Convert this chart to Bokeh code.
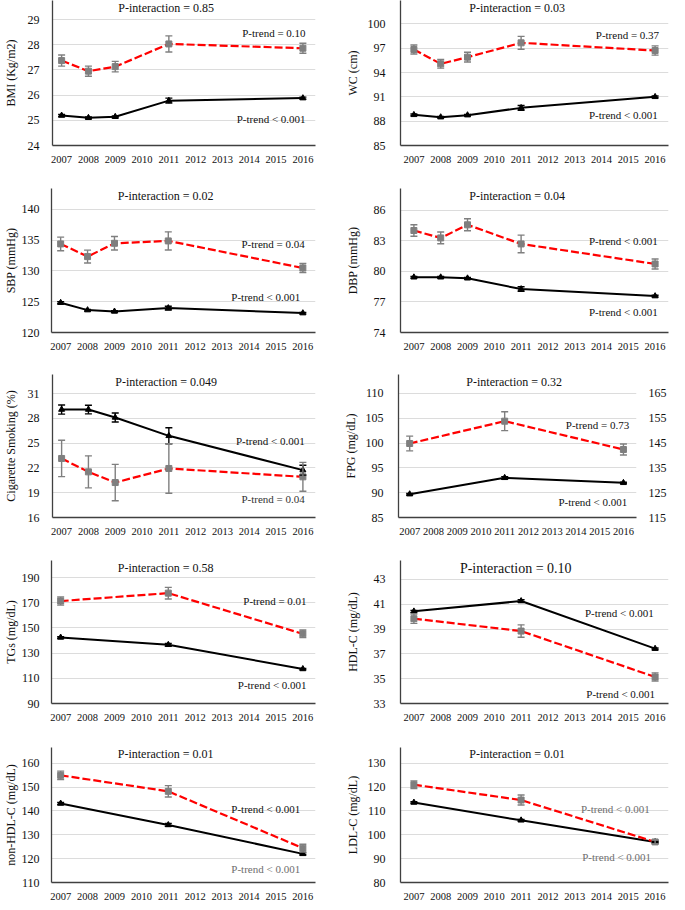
from bokeh.plotting import figure
from bokeh.layouts import column, row
from bokeh.models import Range1d, FixedTicker, LinearAxis, Label, Whisker, TeeHead, ColumnDataSource
from bokeh.embed import file_html
from bokeh.resources import INLINE

FONT = "Liberation Serif"

# ---------------- data ----------------
years_axis = list(range(2007, 2017))
years5 = [2007, 2008, 2009, 2011, 2016]
years3 = [2007, 2011, 2016]

bmi_hi = [27.37, 26.95, 27.13, 28.03, 27.86]
bmi_hi_err = [0.22, 0.20, 0.21, 0.32, 0.20]
bmi_lo = [25.19, 25.10, 25.14, 25.78, 25.88]
bmi_lo_err = [0.04, 0.03, 0.03, 0.10, 0.04]

wc_hi = [96.84, 95.07, 95.89, 97.66, 96.71]
wc_hi_err = [0.55, 0.53, 0.60, 0.80, 0.57]
wc_lo = [88.78, 88.49, 88.74, 89.64, 91.00]
wc_lo_err = [0.10, 0.08, 0.08, 0.30, 0.10]

sbp_hi = [134.40, 132.34, 134.50, 134.89, 130.49]
sbp_hi_err = [1.10, 1.05, 1.10, 1.47, 0.73]
sbp_lo = [124.84, 123.64, 123.42, 123.97, 123.15]
sbp_lo_err = [0.15, 0.12, 0.12, 0.30, 0.12]

dbp_hi = [84.03, 83.30, 84.59, 82.71, 80.74]
dbp_hi_err = [0.56, 0.58, 0.59, 0.87, 0.49]
dbp_lo = [79.43, 79.43, 79.33, 78.27, 77.58]
dbp_lo_err = [0.08, 0.08, 0.08, 0.23, 0.08]

smk_hi = [23.14, 21.52, 20.23, 21.93, 20.92]
smk_hi_err = [2.20, 1.94, 2.20, 3.00, 1.75]
smk_lo = [29.06, 29.06, 28.10, 25.88, 21.73]
smk_lo_err = [0.55, 0.52, 0.55, 0.97, 0.60]

fpg_hi = [99.92, 104.42, 98.71]
fpg_hi_err = [1.48, 1.90, 1.10]
fpg_lo = [89.70, 93.00, 91.99]
fpg_lo_err = [0.15, 0.25, 0.12]

tg_hi = [171.3, 177.6, 145.3]
tg_hi_err = [3.2, 4.6, 3.0]
tg_lo = [142.4, 136.6, 117.4]
tg_lo_err = [0.6, 1.0, 0.5]

hdl_hi = [39.84, 38.84, 35.14]
hdl_hi_err = [0.38, 0.50, 0.33]
hdl_lo = [40.43, 41.26, 37.42]
hdl_lo_err = [0.08, 0.10, 0.06]

nhdl_hi = [154.9, 148.2, 124.4]
nhdl_hi_err = [1.77, 2.40, 1.60]
nhdl_lo = [143.1, 134.1, 122.0]
nhdl_lo_err = [0.4, 0.6, 0.4]

ldl_hi = [120.97, 114.55, 97.0]
ldl_hi_err = [1.6, 2.1, 0.8]
ldl_lo = [113.5, 106.05, 97.0]
ldl_lo_err = [0.3, 0.4, 0.3]

RED = "#ff0000"
GRAY = "#7f7f7f"
BLACK = "#000000"
TXT = "#111111"
GTXT = "#6e6e6e"


def panel(width, height, L, R, T, B, xr, yr, yticks, ylabel, lab_standoff, tick_standoff,
          xs, hi, hi_err, lo, lo_err, title, title_x, trends, title_size="12px", title_off=7,
          right=None):
    p = figure(width=width, height=height, output_backend="svg", toolbar_location=None,
               x_range=Range1d(*xr), y_range=Range1d(*yr),
               min_border_left=L, min_border_right=R, min_border_top=T, min_border_bottom=B)
    p.outline_line_color = None
    p.background_fill_color = "white"
    p.border_fill_color = "white"

    p.xaxis.ticker = FixedTicker(ticks=years_axis)
    p.yaxis.ticker = FixedTicker(ticks=yticks)
    for ax in (p.xaxis[0], p.yaxis[0]):
        ax.axis_line_color = "#404040"
        ax.axis_line_width = 1.3
        ax.major_tick_line_color = None
        ax.minor_tick_line_color = None
        ax.major_label_text_font = FONT
        ax.major_label_text_color = TXT
    p.xaxis.major_label_text_font_size = "10.5px"
    p.xaxis.major_label_standoff = 4
    p.yaxis.major_label_text_font_size = "12px"
    p.yaxis.major_label_standoff = tick_standoff
    p.yaxis.axis_label = ylabel
    p.yaxis.axis_label_text_font = FONT
    p.yaxis.axis_label_text_font_size = "12px"
    p.yaxis.axis_label_text_font_style = "normal"
    p.yaxis.axis_label_text_color = TXT
    p.yaxis.axis_label_standoff = lab_standoff

    p.xgrid.visible = False
    p.ygrid.ticker = FixedTicker(ticks=yticks)
    p.ygrid.grid_line_color = "#dcdcdc"
    p.ygrid.grid_line_width = 1

    if right is not None:
        rr, rticks = right
        p.extra_y_ranges = {"r": Range1d(*rr)}
        rax = LinearAxis(y_range_name="r", ticker=FixedTicker(ticks=rticks))
        rax.axis_line_color = None
        rax.major_tick_line_color = None
        rax.minor_tick_line_color = None
        rax.major_label_text_font = FONT
        rax.major_label_text_font_size = "12px"
        rax.major_label_text_color = TXT
        rax.major_label_standoff = 6
        p.add_layout(rax, "right")

    p.line(xs, lo, line_color=BLACK, line_width=2)
    p.line(xs, hi, line_color=RED, line_width=2.2, line_dash="8 3")

    src_hi = ColumnDataSource(dict(x=xs, up=[v + e for v, e in zip(hi, hi_err)],
                                   dn=[v - e for v, e in zip(hi, hi_err)]))
    src_lo = ColumnDataSource(dict(x=xs, up=[v + e for v, e in zip(lo, lo_err)],
                                   dn=[v - e for v, e in zip(lo, lo_err)]))
    for src, col in ((src_lo, BLACK), (src_hi, GRAY)):
        w = Whisker(base="x", upper="up", lower="dn", source=src, level="glyph",
                    line_color=col, line_width=1.4,
                    upper_head=TeeHead(size=7, line_color=col, line_width=1.4),
                    lower_head=TeeHead(size=7, line_color=col, line_width=1.4))
        p.add_layout(w)

    p.scatter(xs, lo, marker="triangle", size=6, fill_color=BLACK, line_color=BLACK)
    p.scatter(xs, hi, marker="square", size=6, fill_color=GRAY, line_color=GRAY)

    frame_h = height - T - B
    ty = yr[1] - title_off * (yr[1] - yr[0]) / frame_h
    p.add_layout(Label(x=title_x, y=ty, text=title, text_align="center", text_baseline="middle",
                       text_font=FONT, text_font_size=title_size, text_color=TXT))
    for (tx, tyy, txt, col) in trends:
        p.add_layout(Label(x=tx, y=tyy, text=txt, text_align="right", text_baseline="middle",
                           text_font=FONT, text_font_size="11px", text_color=col))
    return p


LW, RW = 334, 335
LXR = (2006.66, 2016.47)
RXR = (2006.5, 2016.5)

# row 1: height 178
H, T, B = 178, 0, 33
p1 = panel(LW, H, 42, 19, T, B, LXR, (24, 29.754), [24, 25, 26, 27, 28, 29], "BMI (Kg/m2)", 7, 7,
           years5, bmi_hi, bmi_hi_err, bmi_lo, bmi_lo_err, "P-interaction = 0.85", 2010.9,
           [(2016.1, 28.48, "P-trend = 0.10", TXT), (2016.1, 25.07, "P-trend < 0.001", TXT)])
p2 = panel(RW, H, 66, 1, T, B, RXR, (85, 102.88), [85, 88, 91, 94, 97, 100], "WC (cm)", 5, 9,
           years5, wc_hi, wc_hi_err, wc_lo, wc_lo_err, "P-interaction = 0.03", 2010.85,
           [(2016.15, 98.64, "P-trend = 0.37", TXT), (2016.1, 88.78, "P-trend < 0.001", TXT)])

# row 2: height 184
H, T, B = 184, 10, 30
p3 = panel(LW, H, 42, 19, T, B, LXR, (120, 143.41), [120, 125, 130, 135, 140], "SBP (mmHg)", 1, 6,
           years5, sbp_hi, sbp_hi_err, sbp_lo, sbp_lo_err, "P-interaction = 0.02", 2010.9,
           [(2016.07, 134.4, "P-trend = 0.04", TXT), (2015.9, 125.7, "P-trend < 0.001", TXT)])
p4 = panel(RW, H, 66, 1, T, B, RXR, (74, 88.16), [74, 77, 80, 83, 86], "DBP (mmHg)", 11, 9,
           years5, dbp_hi, dbp_hi_err, dbp_lo, dbp_lo_err, "P-interaction = 0.04", 2010.85,
           [(2016.1, 82.97, "P-trend < 0.001", TXT), (2016.1, 75.97, "P-trend < 0.001", TXT)])

# row 3: height 186
H, T, B = 186, 12, 31
p5 = panel(LW, H, 42, 19, T, B, LXR, (16, 33.30), [16, 19, 22, 25, 28, 31], "Cigarette Smoking (%)", 7, 7,
           years5, smk_hi, smk_hi_err, smk_lo, smk_lo_err, "P-interaction = 0.049", 2010.9,
           [(2016.07, 25.23, "P-trend < 0.001", TXT), (2016.07, 18.18, "P-trend = 0.04", "#333333")])
p6 = panel(RW, H, 64, 22, T, B, (2006.53, 2016.55), (85, 113.83), [85, 90, 95, 100, 105, 110], "FPG (mg/dL)", 5, 9,
           years3, fpg_hi, fpg_hi_err, fpg_lo, fpg_lo_err, "P-interaction = 0.32", 2011.4,
           [(2016.24, 103.69, "P-trend = 0.73", TXT), (2016.16, 88.2, "P-trend < 0.001", TXT)],
           right=((115, 172.66), [115, 125, 135, 145, 155, 165]))

# row 4: height 185
H, T, B = 185, 12, 30
p7 = panel(LW, H, 42, 19, T, B, LXR, (90, 203.5), [90, 110, 130, 150, 170, 190], "TGs (mg/dL)", 1, 6,
           years3, tg_hi, tg_hi_err, tg_lo, tg_lo_err, "P-interaction = 0.58", 2010.9,
           [(2016.14, 171.7, "P-trend = 0.01", TXT), (2016.14, 104.3, "P-trend < 0.001", TXT)])
p8 = panel(RW, H, 66, 1, T, B, RXR, (33, 44.53), [33, 35, 37, 39, 41, 43], "HDL-C (mg/dL)", 11, 9,
           years3, hdl_hi, hdl_hi_err, hdl_lo, hdl_lo_err, "P-interaction = 0.10", 2010.8,
           [(2015.95, 40.31, "P-trend < 0.001", TXT), (2016.0, 33.78, "P-trend < 0.001", TXT)],
           title_size="14px", title_off=8)

# row 5: height 169
H, T, B = 169, 14, 17
p9 = panel(LW, H, 42, 19, T, B, LXR, (110, 166.56), [110, 120, 130, 140, 150, 160], "non-HDL-C (mg/dL)", 1, 6,
           years3, nhdl_hi, nhdl_hi_err, nhdl_lo, nhdl_lo_err, "P-interaction = 0.01", 2010.9,
           [(2015.9, 140.74, "P-trend < 0.001", TXT), (2015.9, 115.6, "P-trend < 0.001", GTXT)])
p10 = panel(RW, H, 66, 1, T, B, RXR, (80, 136.56), [80, 90, 100, 110, 120, 130], "LDL-C (mg/dL)", 5, 9,
            years3, ldl_hi, ldl_hi_err, ldl_lo, ldl_lo_err, "P-interaction = 0.01", 2010.85,
            [(2015.8, 111.0, "P-trend < 0.001", GTXT), (2015.85, 90.55, "P-trend < 0.001", GTXT)])

layout = column(row(p1, p2), row(p3, p4), row(p5, p6), row(p7, p8), row(p9, p10))

open("out.html", "w").write(file_html(layout, INLINE))
